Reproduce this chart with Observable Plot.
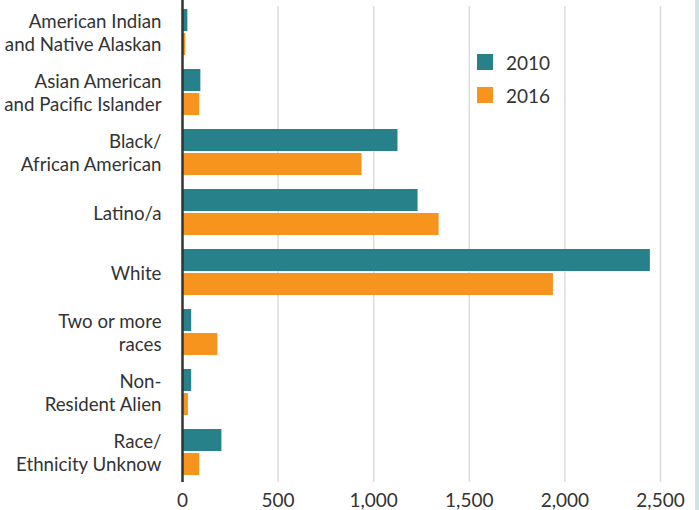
<!DOCTYPE html>
<html>
<head>
<meta charset="utf-8">
<script src="https://cdn.jsdelivr.net/npm/d3@7"></script>
<script src="https://cdn.jsdelivr.net/npm/@observablehq/plot@0.6"></script>
<style>
  html, body { margin: 0; padding: 0; background: #fff; }
  #wrap { position: relative; width: 695px; height: 510px; border-right: 4px solid #d3e2e7; font-family: Lato, sans-serif; color: #333; }
  #legend { position: absolute; left: 477px; top: 54px; }
  .row { display: flex; align-items: center; height: 16px; margin-bottom: 17px; font-size: 19px; }
  .sw { width: 16px; height: 16px; margin-right: 13px; }
</style>
</head>
<body>
<div id="wrap"><div id="legend"></div></div>
<script>
const categories = [
  "American Indian\nand Native Alaskan",
  "Asian American\nand Pacific Islander",
  "Black/\nAfrican American",
  "Latino/a",
  "White",
  "Two or more\nraces",
  "Non-\nResident Alien",
  "Race/\nEthnicity Unknow"
];
const years = ["2010", "2016"];
const values2010 = [28, 96, 1127, 1232, 2447, 48, 48, 206];
const values2016 = [17, 90, 939, 1342, 1940, 185, 31, 90];
const xTicks = [0, 500, 1000, 1500, 2000, 2500];
const colors = ["#26818b", "#f7941d"];

const rows2010 = categories.map((c, i) => ({category: c, year: "2010", value: values2010[i]}));
const rows2016 = categories.map((c, i) => ({category: c, year: "2016", value: values2016[i]}));

const chart = Plot.plot({
  width: 695,
  height: 510,
  marginLeft: 182,
  marginRight: 35,
  marginTop: 1,
  marginBottom: 28,
  style: {fontFamily: "Lato, sans-serif", fontSize: "18px", color: "#333", background: "transparent"},
  x: {domain: [0, 2500], ticks: xTicks, label: null},
  y: {domain: categories, paddingInner: 0.235, paddingOuter: 0.1164, label: null},
  marks: [
    Plot.ruleX(xTicks.slice(1), {stroke: "#dcdcdc", strokeWidth: 1.5, insetTop: 5}),
    Plot.barX(rows2010, {x: "value", y: "category", fill: colors[0], insetBottom: 24}),
    Plot.barX(rows2016, {x: "value", y: "category", fill: colors[1], insetTop: 24}),
    Plot.ruleX([0], {stroke: "#333", strokeWidth: 2.5, insetTop: -1}),
    Plot.axisY({tickSize: 0, tickPadding: 21, fontSize: 18.7, lineHeight: 1.22, fill: "#333", label: null}),
    Plot.axisX({ticks: xTicks, tickFormat: d3.format(","), tickSize: 0, tickPadding: 11, fontSize: 19, fill: "#333", label: null})
  ]
});
const wrap = document.getElementById("wrap");
wrap.insertBefore(chart, wrap.firstChild);

const legend = document.getElementById("legend");
years.forEach((y, i) => {
  const row = document.createElement("div");
  row.className = "row";
  row.innerHTML = `<div class="sw" style="background:${colors[i]}"></div><span>${y}</span>`;
  legend.appendChild(row);
});
</script>
</body>
</html>
